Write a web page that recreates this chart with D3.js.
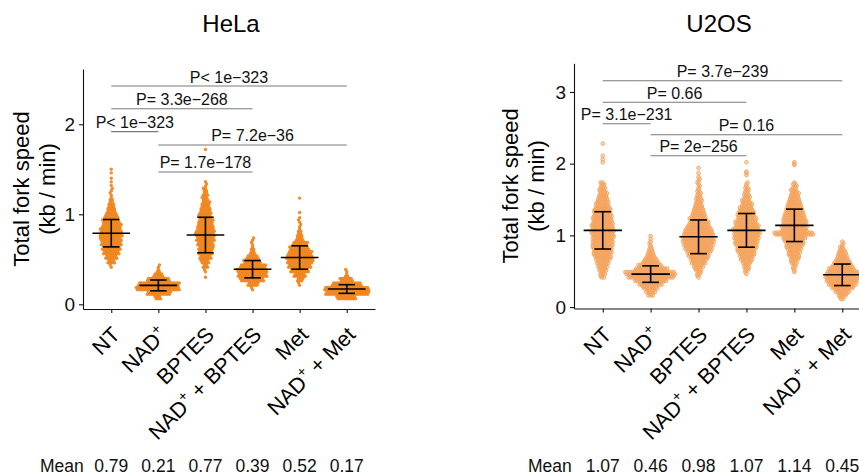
<!DOCTYPE html>
<html><head><meta charset="utf-8">
<script src="https://cdn.jsdelivr.net/npm/d3@7"></script>
<style>
body{margin:0;background:#fff}
svg{display:block}
text{font-family:"Liberation Sans",Arial,Helvetica,sans-serif}
</style>
</head><body>
<svg id="c" width="859" height="474"></svg>
<script>
// ---------- data ----------
const categories = ["NT", "NAD+", "BPTES", "NAD+ + BPTES", "Met", "NAD+ + Met"];
const yTicks = [0, 1, 2, 3];

// HeLa
const helaMeans = [0.79, 0.21, 0.77, 0.39, 0.52, 0.17];
const helaSD = [0.152, 0.06, 0.197, 0.096, 0.13, 0.048];
const helaBinStart = [0.40, 0.05, 0.35, 0.15, 0.20, 0.05]; // lower edge of first 0.05 bin
const helaCounts = [
  [2,7,11,15,17,19,20,21,20,18,16,13,9,7,5,3,2,2],
  [6,22,40,38,21,9,3,2],
  [2,5,8,11,13,14,15,17,18,17,15,14,12,11,9,8,6,5,4,2,1],
  [2,10,22,27,28,24,16,11,5,3,2,2],
  [2,6,11,17,21,24,25,22,18,14,7,5,3,2,2,1],
  [18,40,41,27,12,3,2]
];
const helaExtras = [[1.32,1.36,1.40,1.46,1.50],[],[0.30,1.72],[],[1.02,1.18],[]];
const helaPairs = [[0,5],[0,3],[0,1],[1,5],[1,3]];
const helaPY = [2.425, 2.173, 1.918, 1.770, 1.470];
const helaPLabels = ["P< 1e\u2212323", "P= 3.3e\u2212268", "P< 1e\u2212323", "P= 7.2e\u221236", "P= 1.7e\u2212178"];

// U2OS
const u2osMeans = [1.07, 0.46, 0.98, 1.07, 1.14, 0.45];
const u2osSD = [0.26, 0.115, 0.235, 0.235, 0.226, 0.15];
const u2osBinStart = [0.40, 0.15, 0.40, 0.45, 0.50, 0.10];
const u2osCounts = [
  [4,5,7,9,11,14,16,17,18,19,19,20,20,21,20,19,18,17,16,15,12,11,9,8,6,5,4],
  [5,9,14,21,29,42,46,30,22,15,11,7,5,3,2],
  [2,4,6,9,13,16,19,22,25,27,29,29,27,25,21,18,16,13,11,9,7,6,5,4,3,2,2,2,1],
  [2,4,5,8,11,14,16,18,20,21,23,24,24,22,20,18,16,15,12,10,8,6,5,4,3,2],
  [2,3,6,8,10,11,14,16,18,21,36,23,23,22,21,19,17,15,13,11,9,8,6,4,3],
  [4,8,13,20,25,29,31,30,24,19,15,11,9,7,4,2,1]
];
const u2osExtras = [[2.02,2.06,2.11,2.28],[0.91,0.95,0.99],[1.87,1.94],[1.84,1.87,1.89,2.02],[0.49,1.98,2.00,2.02],[]];
const u2osPairs = [[0,5],[0,3],[0,1],[1,5],[1,3]];
const u2osPY = [3.157, 2.856, 2.557, 2.404, 2.111];
const u2osPLabels = ["P= 3.7e\u2212239", "P= 0.66", "P= 3.1e\u2212231", "P= 0.16", "P= 2e\u2212256"];

const BIN = 0.05;

// ---------- drawing ----------
const svg = d3.select("#c");

function drawCatLabel(g, label, x, y) {
  const t = g.append("text")
    .attr("transform", `translate(${x},${y}) rotate(-45)`)
    .attr("text-anchor", "end")
    .attr("font-size", 21.5)
    .attr("fill", "#000");
  const parts = label.split("NAD+");
  parts.forEach((p, i) => {
    if (i > 0) {
      t.append("tspan").text("NAD");
      t.append("tspan").attr("font-size", 14).attr("dy", -9).text("+");
      t.append("tspan").attr("dy", 9).text(p.length ? p : "\u200B");
    } else if (p.length) {
      t.append("tspan").text(p);
    }
  });
}

function panel(o) {
  const x = d3.scalePoint().domain(categories).range(o.xRange).padding(0.6);
  const y = d3.scaleLinear().domain(o.yDomain).range(o.yRange);
  const g = svg.append("g");

  // title
  g.append("text").attr("x", o.titleX).attr("y", 31.7).attr("text-anchor", "middle")
    .attr("font-size", 24).text(o.title);

  // y title
  const yt = g.append("g").attr("font-size", 22).attr("text-anchor", "middle");
  yt.append("text").attr("transform", `translate(${o.yTitleX[0]},${(o.yRange[0]+o.yRange[1])/2}) rotate(-90)`).text("Total fork speed");
  yt.append("text").attr("transform", `translate(${o.yTitleX[1]},${(o.yRange[0]+o.yRange[1])/2}) rotate(-90)`).text("(kb / min)");

  // points
  const pts = [];
  categories.forEach((c, ci) => {
    const xc = x(c);
    const S = 2.2;
    o.counts[ci].forEach((cnt, bi) => {
      const lo = o.starts[ci] + bi * BIN;
      const rows = [Math.ceil(cnt / 2), Math.floor(cnt / 2)];
      const stagger = (rows[0] % 2 === rows[1] % 2) ? (bi % 2 ? 0.5 : -0.5) * S : 0;
      rows.forEach((n, r) => {
        const v = lo + BIN * (r === 0 ? 0.25 : 0.75);
        for (let j = 0; j < n; j++) {
          pts.push({ x: xc + (j - (n - 1) / 2) * S + (r === 1 ? stagger : 0), y: y(v) });
        }
      });
    });
    o.extras[ci].forEach(v => pts.push({ x: xc, y: y(v) }));
  });
  g.append("g").selectAll("circle").data(pts).join("circle")
    .attr("cx", d => d.x).attr("cy", d => d.y).attr("r", o.r)
    .attr("fill", o.fill).attr("fill-opacity", o.fillOpacity)
    .attr("stroke", o.stroke).attr("stroke-width", o.strokeWidth);

  // mean + SD
  const step = x.step();
  const eb = g.append("g").attr("stroke", "#000").attr("stroke-width", 1.6);
  categories.forEach((c, ci) => {
    const xc = x(c), m = o.means[ci], s = o.sd[ci];
    eb.append("line").attr("x1", xc - 0.4 * step).attr("x2", xc + 0.4 * step).attr("y1", y(m)).attr("y2", y(m));
    eb.append("line").attr("x1", xc).attr("x2", xc).attr("y1", y(m - s)).attr("y2", y(m + s));
    [m - s, m + s].forEach(v => eb.append("line").attr("x1", xc - 0.175 * step).attr("x2", xc + 0.175 * step).attr("y1", y(v)).attr("y2", y(v)));
  });

  // p-value brackets
  o.pairs.forEach((p, i) => {
    const x1 = x(categories[p[0]]), x2 = x(categories[p[1]]), yy = y(o.pY[i]);
    g.append("line").attr("x1", x1).attr("x2", x2).attr("y1", yy).attr("y2", yy)
      .attr("stroke", "#7a7a7a").attr("stroke-width", 1.1);
    g.append("text").attr("x", (x1 + x2) / 2).attr("y", yy - 3.5).attr("text-anchor", "middle")
      .attr("font-size", 16).attr("fill", "#111").text(o.pLabels[i]);
  });

  // axes
  const ticks = yTicks.filter(t => t <= o.yDomain[1]);
  const ya = g.append("g").attr("transform", `translate(${o.xRange[0]},0)`)
    .call(d3.axisLeft(y).tickValues(ticks).tickFormat(d3.format("d")).tickSize(4).tickPadding(4).tickSizeOuter(0));
  ya.attr("font-family", null).attr("font-size", null);
  ya.selectAll("text").attr("font-size", 19).attr("fill", "#111");
  ya.selectAll("path,line").attr("stroke", "#111").attr("stroke-width", 1.1);

  const xa = g.append("g").attr("transform", `translate(0,${o.yRange[0]})`)
    .call(d3.axisBottom(x).tickSize(4).tickFormat("").tickSizeOuter(0));
  xa.selectAll("path,line").attr("stroke", "#111").attr("stroke-width", 1.1);

  categories.forEach(c => drawCatLabel(g, c, x(c) + 10, 336));

  // mean row
  const mr = g.append("g").attr("font-size", 17.5).attr("fill", "#111");
  mr.append("text").attr("x", o.meanX).attr("y", 471.5).text("Mean");
  categories.forEach((c, ci) => {
    mr.append("text").attr("x", x(c)).attr("y", 471.5).attr("text-anchor", "middle")
      .text(o.means[ci].toFixed(2));
  });
}

panel({
  title: "HeLa", titleX: 231, means: helaMeans, sd: helaSD, starts: helaBinStart, counts: helaCounts,
  extras: helaExtras, pairs: helaPairs, pY: helaPY, pLabels: helaPLabels,
  yDomain: [-0.052, 2.614], xRange: [83, 375], yRange: [309, 69], yTitleX: [28.5, 55], meanX: 40,
  r: 1.7, fill: "#F0831A", fillOpacity: 0.92, stroke: "none", strokeWidth: 0
});
panel({
  title: "U2OS", titleX: 719, means: u2osMeans, sd: u2osSD, starts: u2osBinStart, counts: u2osCounts,
  extras: u2osExtras, pairs: u2osPairs, pY: u2osPY, pLabels: u2osPLabels,
  yDomain: [-0.02, 3.40], xRange: [574, 871], yRange: [308.5, 63.3], yTitleX: [518, 544], meanX: 528,
  r: 1.8, fill: "#F7B57A", fillOpacity: 0.5, stroke: "#F4A25A", strokeWidth: 0.9
});
</script>
</body></html>
